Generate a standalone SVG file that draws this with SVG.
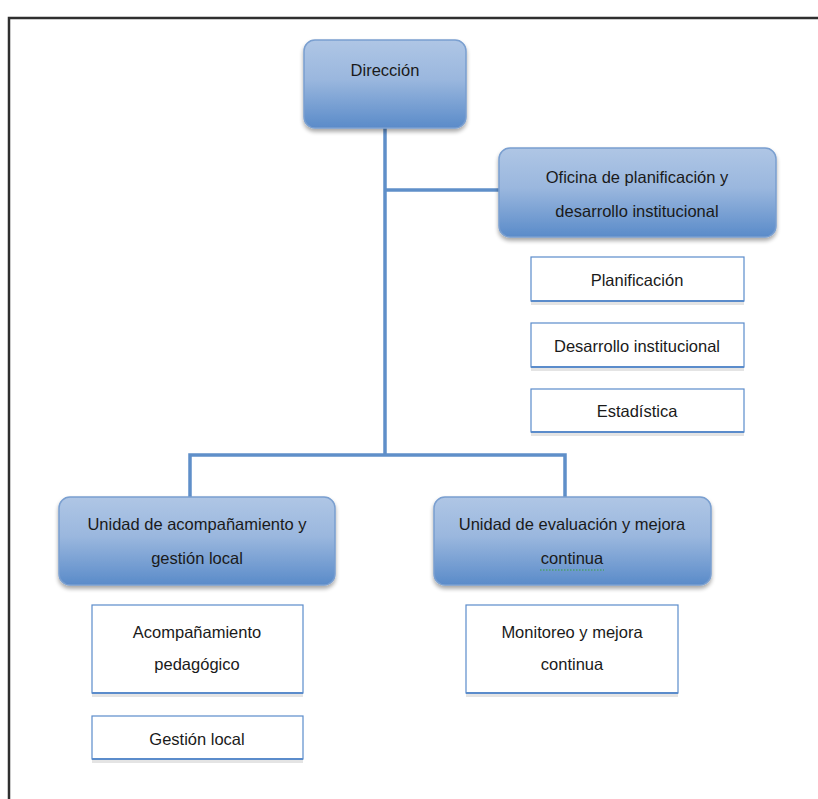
<svg xmlns="http://www.w3.org/2000/svg" width="818" height="799" viewBox="0 0 818 799">
<defs>
<linearGradient id="g" x1="0" y1="0" x2="0" y2="1">
<stop offset="0" stop-color="#afc6e5"/>
<stop offset="0.45" stop-color="#9ab7de"/>
<stop offset="1" stop-color="#5a8bc9"/>
</linearGradient>
<filter id="sh" x="-10%" y="-10%" width="120%" height="130%">
<feGaussianBlur in="SourceAlpha" stdDeviation="2"/>
<feOffset dx="0" dy="3" result="b"/>
<feComponentTransfer><feFuncA type="linear" slope="0.35"/></feComponentTransfer>
<feMerge><feMergeNode/><feMergeNode in="SourceGraphic"/></feMerge>
</filter>
</defs>
<style>
.main{fill:url(#g);stroke:#7a9fd0;stroke-width:1.5;filter:url(#sh)}
.sub{fill:#fff;stroke:#5b8ccb;stroke-width:1.2}
.subsh{fill:#e4e4e4}
.t{font-family:"Liberation Sans",Arial,sans-serif;font-size:16.5px;fill:#1a1a1a;text-anchor:middle}
.c{fill:none;stroke:#5f8fc9;stroke-width:3.5}
</style>
<rect x="9" y="18" width="820" height="800" fill="none" stroke="#2f2f2f" stroke-width="2.5"/>
<g id="connectors">
<path class="c" d="M385 128 V455"/>
<path class="c" d="M385 190 H500"/>
<path class="c" d="M190 497 V455 H565 V497"/>
</g>
<g id="direccion">
<rect class="main" x="304" y="40" width="162" height="88" rx="11"/>
<text class="t" x="385" y="76">Dirección</text>
</g>
<g id="oficina">
<rect class="main" x="499" y="148" width="277" height="89" rx="11"/>
<text class="t" x="637" y="183">Oficina de planificación y</text>
<text class="t" x="637" y="217">desarrollo institucional</text>
</g>
<g id="planificacion">
<rect class="subsh" x="531" y="301" width="213" height="4"/>
<rect class="sub" x="531" y="257" width="213" height="44"/>
<line x1="531" y1="301" x2="744" y2="301" stroke="#5b8ccb" stroke-width="2"/>
<text class="t" x="637" y="286">Planificación</text>
</g>
<g id="desarrollo">
<rect class="subsh" x="531" y="367" width="213" height="4"/>
<rect class="sub" x="531" y="323" width="213" height="44"/>
<line x1="531" y1="367" x2="744" y2="367" stroke="#5b8ccb" stroke-width="2"/>
<text class="t" x="637" y="352">Desarrollo institucional</text>
</g>
<g id="estadistica">
<rect class="subsh" x="531" y="432" width="213" height="4"/>
<rect class="sub" x="531" y="389" width="213" height="43"/>
<line x1="531" y1="432" x2="744" y2="432" stroke="#5b8ccb" stroke-width="2"/>
<text class="t" x="637" y="417">Estadística</text>
</g>
<g id="unidad-acompanamiento">
<rect class="main" x="59" y="497" width="276" height="88" rx="11"/>
<text class="t" x="197" y="530">Unidad de acompañamiento y</text>
<text class="t" x="197" y="564">gestión local</text>
</g>
<g id="unidad-evaluacion">
<rect class="main" x="434" y="497" width="277" height="88" rx="11"/>
<text class="t" x="572" y="530">Unidad de evaluación y mejora</text>
<text class="t" x="572" y="564">continua</text>
<path d="M540 570 H604" stroke="#3aa03a" stroke-width="1" stroke-dasharray="1.5 1.5"/>
</g>
<g id="acompanamiento-pedagogico">
<rect class="subsh" x="92" y="693" width="211" height="4"/>
<rect class="sub" x="92" y="605" width="211" height="88"/>
<line x1="92" y1="693" x2="303" y2="693" stroke="#5b8ccb" stroke-width="2"/>
<text class="t" x="197" y="638">Acompañamiento</text>
<text class="t" x="197" y="670">pedagógico</text>
</g>
<g id="gestion-local">
<rect class="subsh" x="92" y="759" width="211" height="4"/>
<rect class="sub" x="92" y="716" width="211" height="43"/>
<line x1="92" y1="759" x2="303" y2="759" stroke="#5b8ccb" stroke-width="2"/>
<text class="t" x="197" y="745">Gestión local</text>
</g>
<g id="monitoreo">
<rect class="subsh" x="466" y="693" width="212" height="4"/>
<rect class="sub" x="466" y="605" width="212" height="88"/>
<line x1="466" y1="693" x2="678" y2="693" stroke="#5b8ccb" stroke-width="2"/>
<text class="t" x="572" y="638">Monitoreo y mejora</text>
<text class="t" x="572" y="670">continua</text>
</g>
</svg>
